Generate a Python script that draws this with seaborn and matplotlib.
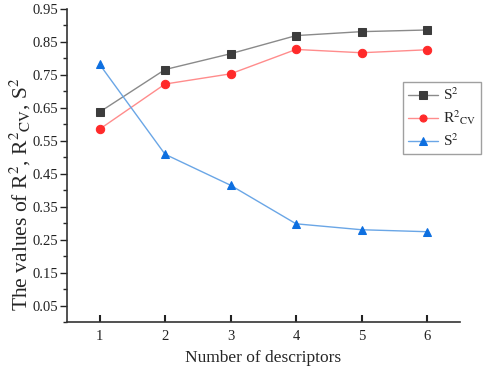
import numpy as np
import pandas as pd
import matplotlib
matplotlib.use('Agg')
import matplotlib.pyplot as plt
import seaborn as sns
from matplotlib.ticker import AutoMinorLocator

# values
descriptors = [1, 2, 3, 4, 5, 6]
s2_fit = [0.637, 0.766, 0.814, 0.869, 0.881, 0.886]
r2_cv = [0.585, 0.722, 0.753, 0.827, 0.817, 0.826]
s2_err = [0.782, 0.509, 0.415, 0.298, 0.280, 0.274]
y_ticks = [0.05, 0.15, 0.25, 0.35, 0.45, 0.55, 0.65, 0.75, 0.85, 0.95]

sns.set_style('ticks')
plt.rcParams['font.family'] = ['Liberation Serif', 'DejaVu Serif']
plt.rcParams['mathtext.fontset'] = 'stix'

fig = plt.figure(figsize=(4.84, 3.71), dpi=100)
ax = fig.add_axes([0.138, 0.132, 0.812, 0.844])

series = [
    (s2_fit, r'S$^2$', 's', '#3c3c3c', '#8a8a8a'),
    (r2_cv, r'R$^2$$_{\rm CV}$', 'o', '#ff2a2a', '#ff8c8c'),
    (s2_err, r'S$^2$', '^', '#0d6fe0', '#6aa6e6'),
]
for vals, lab, mk, mcol, lcol in series:
    df = pd.DataFrame({'x': descriptors, 'y': vals})
    sns.lineplot(data=df, x='x', y='y', ax=ax, color=lcol, lw=1.0,
                 marker=mk, markersize=6, markerfacecolor=mcol,
                 markeredgecolor=mcol, label=lab)

ax.set_xlim(0.5, 6.5)
ax.set_ylim(0.0, 0.95)
ax.set_xticks(descriptors)
ax.set_yticks(y_ticks)
ax.yaxis.set_minor_locator(AutoMinorLocator(2))
ax.set_yticklabels([f'{v:.2f}' for v in y_ticks])

for s in ['top', 'right']:
    ax.spines[s].set_visible(False)
for s in ['left', 'bottom']:
    ax.spines[s].set_linewidth(1.2)
    ax.spines[s].set_color('#333333')

ax.tick_params(axis='y', which='major', direction='out', length=5, width=1.0, pad=1,
               labelsize=10.5, colors='#222222')
ax.tick_params(axis='y', which='minor', direction='out', length=3, width=1.0)
ax.tick_params(axis='x', which='major', direction='in', length=5, width=1.5, labelsize=10.5, pad=6, colors='#222222')

ax.set_xlabel('Number of descriptors', fontsize=12.5, labelpad=5)
ax.set_ylabel(r'The values of R$^2$, R$^2$$_{\rm CV}$, S$^2$', fontsize=15.5)
ax.yaxis.set_label_coords(-0.085, 0.41)

leg = ax.legend(loc='upper left', bbox_to_anchor=(0.833, 0.779), bbox_transform=fig.transFigure,
                borderaxespad=0, fontsize=11, frameon=True, fancybox=False, edgecolor='#888888',
                handlelength=2.0, borderpad=0.3, labelspacing=0.35, handletextpad=0.3,
                markerscale=0.85)
leg.get_frame().set_linewidth(1.0)

fig.savefig('out.png', dpi=100)
